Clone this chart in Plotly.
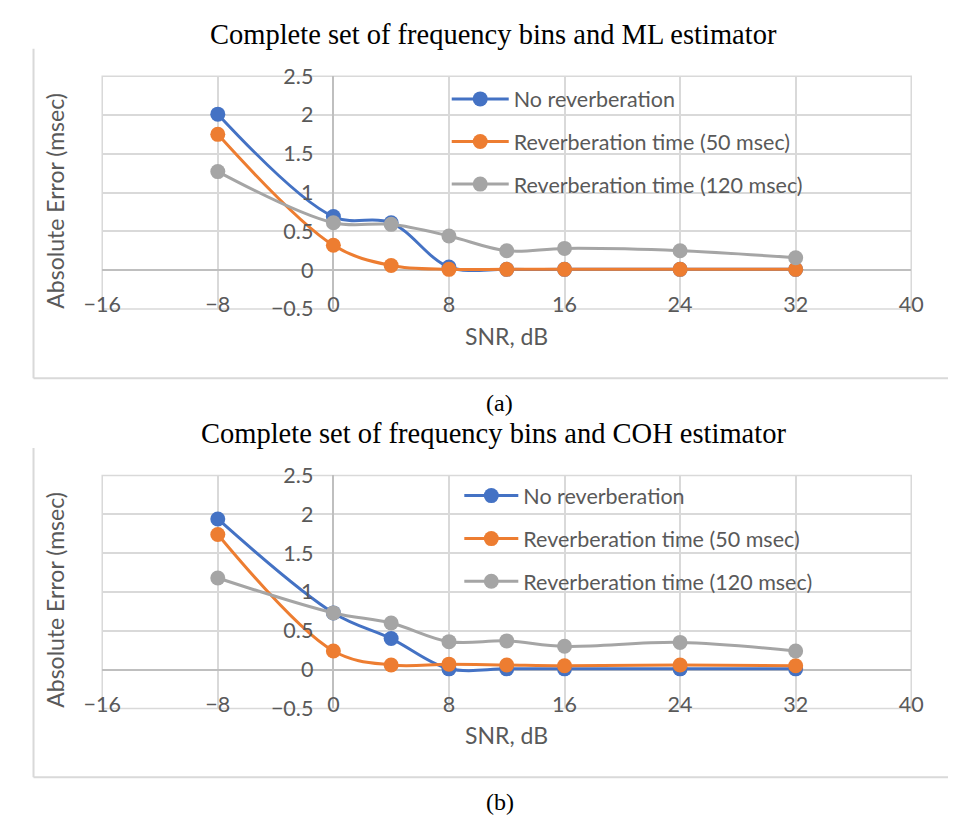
import plotly.graph_objects as go

# ---------------- data ----------------
snr = [-8, 0, 4, 8, 12, 16, 24, 32]
series_names = ["No reverberation", "Reverberation time (50 msec)", "Reverberation time (120 msec)"]

ml_no_reverb = [2.01, 0.69, 0.61, 0.04, 0.01, 0.01, 0.01, 0.01]
ml_rt50 = [1.75, 0.32, 0.06, 0.01, 0.01, 0.01, 0.01, 0.01]
ml_rt120 = [1.27, 0.61, 0.59, 0.44, 0.25, 0.28, 0.25, 0.16]

coh_no_reverb = [1.94, 0.73, 0.40, 0.01, 0.01, 0.01, 0.01, 0.01]
coh_rt50 = [1.74, 0.24, 0.06, 0.07, 0.06, 0.05, 0.06, 0.05]
coh_rt120 = [1.18, 0.73, 0.60, 0.36, 0.37, 0.30, 0.35, 0.24]

x_range = [-16, 40]
y_range = [-0.5, 2.5]
x_tick_vals = [-16, -8, 0, 8, 16, 24, 32, 40]
y_tick_vals = [-0.5, 0, 0.5, 1, 1.5, 2, 2.5]

titles = ["Complete set of frequency bins and ML estimator",
          "Complete set of frequency bins and COH estimator"]
panel_labels = ["(a)", "(b)"]
x_title = "SNR, dB"
y_title = "Absolute Error (msec)"

# ---------------- style ----------------
W, H = 960, 827
colors = ["#4472C4", "#ED7D31", "#A5A5A5"]
grid_c = "#D9D9D9"
axis_c = "#BFBFBF"
text_c = "#595959"
sans = "Lato, 'Open Sans', sans-serif"
serif = "'Liberation Serif', 'DejaVu Serif', serif"

def px_x(p):
    return p / W

def px_y(p):
    return 1 - p / H

x_dom = [px_x(86), px_x(922)]
panels = [
    dict(top=65.2, bottom=305.5, offset=0, legend_x=442, legend_ys=[88.7, 132.7, 176.7], item_w=57,
         data=[ml_no_reverb, ml_rt50, ml_rt120]),
    dict(top=477.5, bottom=718.0, offset=412, legend_x=455, legend_ys=[498.3, 542.7, 586.7], item_w=54,
         data=[coh_no_reverb, coh_rt50, coh_rt120]),
]

fig = go.Figure()
layout = dict(
    width=W, height=H, margin=dict(l=0, r=0, t=0, b=0),
    paper_bgcolor="white", plot_bgcolor="white", showlegend=True,
)
annotations = []
shapes = []

x0_pos = x_dom[0] + (0 - x_range[0]) / (x_range[1] - x_range[0]) * (x_dom[1] - x_dom[0])

leg_idx = 0
for pi, p in enumerate(panels):
    suf = "" if pi == 0 else str(pi + 1)
    xa = "x" + suf
    ya = "y" + suf
    for si, (name, vals) in enumerate(zip(series_names, p["data"])):
        leg_idx += 1
        leg_key = "legend" if leg_idx == 1 else f"legend{leg_idx}"
        fig.add_trace(go.Scatter(
            x=snr, y=vals, name=name, mode="lines+markers",
            line=dict(color=colors[si], width=3, shape="spline", smoothing=1.0),
            marker=dict(color=colors[si], size=15),
            xaxis=xa, yaxis=ya, legend=leg_key,
        ))
        layout[leg_key] = dict(
            x=px_x(p["legend_x"]), y=px_y(p["legend_ys"][si]), xanchor="left", yanchor="middle",
            bgcolor="rgba(0,0,0,0)", borderwidth=0, itemwidth=p["item_w"],
            font=dict(family=sans, size=21.5, color=text_c),
        )
    y_dom = [px_y(p["bottom"]), px_y(p["top"])]
    layout["xaxis" + suf] = dict(
        domain=x_dom, range=x_range, tickvals=x_tick_vals, anchor=ya,
        showgrid=True, gridcolor=grid_c, gridwidth=1.5,
        zeroline=True, zerolinecolor=axis_c, zerolinewidth=2,
        showline=False, ticks="", ticklabelstandoff=-19,
        tickfont=dict(family=sans, size=21.5, color=text_c),
    )
    layout["yaxis" + suf] = dict(
        domain=y_dom, range=y_range, tickvals=y_tick_vals, anchor="free", position=x0_pos,
        showgrid=True, gridcolor=grid_c, gridwidth=1.5,
        zeroline=True, zerolinecolor=axis_c, zerolinewidth=2,
        showline=False, ticks="", ticklabelstandoff=20,
        tickfont=dict(family=sans, size=21.5, color=text_c),
    )
    # plot-area frame
    shapes.append(dict(type="rect", xref=xa + " domain", yref=ya + " domain", x0=0, x1=1, y0=0, y1=1,
                       line=dict(color=grid_c, width=1.5), layer="below"))
    off = p["offset"]
    # chart-area border (left and bottom edges visible)
    shapes.append(dict(type="line", xref="paper", yref="paper", x0=px_x(15), x1=px_x(15),
                       y0=px_y(37 + off), y1=px_y(377 + off), line=dict(color=grid_c, width=2)))
    shapes.append(dict(type="line", xref="paper", yref="paper", x0=px_x(15), x1=1,
                       y0=px_y(377 + off), y1=px_y(377 + off), line=dict(color=grid_c, width=2)))
    # texts
    annotations.append(dict(text=titles[pi], x=px_x(490), y=px_y(22 + off), xref="paper", yref="paper",
                            showarrow=False, xanchor="center", yanchor="middle",
                            font=dict(family=serif, size=28.5, color="black")))
    annotations.append(dict(text=x_title, x=px_x(504), y=px_y(333 + off), xref="paper", yref="paper",
                            showarrow=False, xanchor="center", yanchor="middle",
                            font=dict(family=sans, size=23, color=text_c)))
    annotations.append(dict(text=y_title, x=px_x(37), y=px_y(194 + off), xref="paper", yref="paper",
                            showarrow=False, xanchor="center", yanchor="middle", textangle=-90,
                            font=dict(family=sans, size=23, color=text_c)))
    annotations.append(dict(text=panel_labels[pi], x=px_x(497), y=px_y(403 + off), xref="paper", yref="paper",
                            showarrow=False, xanchor="center", yanchor="middle",
                            font=dict(family=serif, size=24, color="black")))

layout["annotations"] = annotations
layout["shapes"] = shapes
fig.update_layout(**layout)
fig.write_html("out.html")
